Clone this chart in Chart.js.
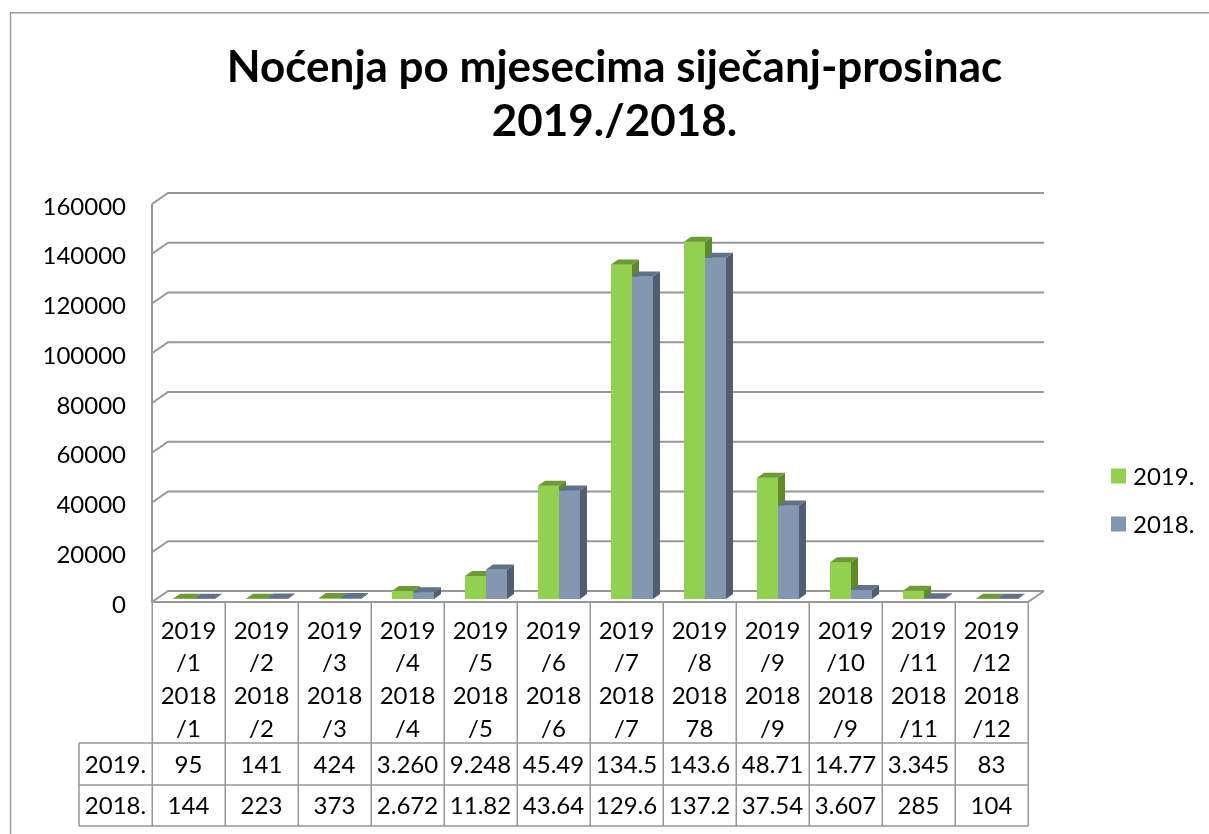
<!DOCTYPE html>
<html lang="hr">
<head>
    <meta charset="utf-8" />
    <title>Noćenja po mjesecima</title>
    <style>
        html, body { margin: 0; padding: 0; background: #fff; }
        #chartWrap { width: 1209px; height: 834px; }
    </style>
    <script src="https://cdn.jsdelivr.net/npm/chart.js"></script>
</head>
<body>
    <div id="chartWrap">
        <canvas id="nightsChart" width="1209" height="834"></canvas>
    </div>
    <script>
        // category labels as they appear in the table header (typos kept from the original)
        var months = [
            ['2019', '/1', '2018', '/1'],
            ['2019', '/2', '2018', '/2'],
            ['2019', '/3', '2018', '/3'],
            ['2019', '/4', '2018', '/4'],
            ['2019', '/5', '2018', '/5'],
            ['2019', '/6', '2018', '/6'],
            ['2019', '/7', '2018', '/7'],
            ['2019', '/8', '2018', '78'],
            ['2019', '/9', '2018', '/9'],
            ['2019', '/10', '2018', '/9'],
            ['2019', '/11', '2018', '/11'],
            ['2019', '/12', '2018', '/12']
        ];
        var seriesNames = ['2019.', '2018.'];
        var nights2019 = [95, 141, 424, 3260, 9248, 45490, 134500, 143600, 48710, 14770, 3345, 83];
        var nights2018 = [144, 223, 373, 2672, 11820, 43640, 129600, 137200, 37540, 3607, 285, 104];
        // values as printed (cut off) in the data table
        var table2019 = ['95', '141', '424', '3.260', '9.248', '45.49', '134.5', '143.6', '48.71', '14.77', '3.345', '83'];
        var table2018 = ['144', '223', '373', '2.672', '11.82', '43.64', '129.6', '137.2', '37.54', '3.607', '285', '104'];
        var yMax = 160000;
        var yStep = 20000;

        var FONT = 'Lato, "Open Sans", sans-serif';
        var LINE = '#979797';
        // bar depth offsets and wall/floor offsets
        var BAR_DX = 7, BAR_DY = 5;
        var FRONT_DX = -5.5, FRONT_DY = 3;
        var BACK_DX = 10.5, BACK_DY = -8;

        var faceColors = [
            { top: '#6c9b35', side: '#5f8a2c' },
            { top: '#61718a', side: '#525e70' }
        ];

        function poly(ctx, pts, fill) {
            ctx.beginPath();
            ctx.moveTo(pts[0][0], pts[0][1]);
            for (var i = 1; i < pts.length; i++) ctx.lineTo(pts[i][0], pts[i][1]);
            ctx.closePath();
            ctx.fillStyle = fill;
            ctx.fill();
        }

        var excel3d = {
            id: 'excel3d',
            beforeDraw: function (chart) {
                var ctx = chart.ctx;
                ctx.save();
                ctx.strokeStyle = '#9a9a9a';
                ctx.lineWidth = 1.5;
                ctx.beginPath();
                ctx.moveTo(10.5, 840);
                ctx.lineTo(10.5, 12.75);
                ctx.lineTo(1215, 12.75);
                ctx.stroke();
                ctx.restore();
            },
            beforeDatasetsDraw: function (chart) {
                var ctx = chart.ctx, ys = chart.scales.y, a = chart.chartArea;
                ctx.save();
                ctx.strokeStyle = LINE;
                ctx.lineWidth = 2;
                ys.ticks.forEach(function (t) {
                    var yv = ys.getPixelForValue(t.value);
                    ctx.beginPath();
                    ctx.moveTo(a.left + FRONT_DX, yv + FRONT_DY);
                    ctx.lineTo(a.left + BACK_DX, yv + BACK_DY);
                    ctx.lineTo(a.right + BACK_DX, yv + BACK_DY);
                    ctx.stroke();
                });
                var y0 = ys.getPixelForValue(0), yTop = ys.getPixelForValue(yMax);
                ctx.beginPath();
                ctx.moveTo(a.left + FRONT_DX, yTop + FRONT_DY);
                ctx.lineTo(a.left + FRONT_DX, y0 + FRONT_DY);
                ctx.lineTo(a.right + FRONT_DX, y0 + FRONT_DY);
                ctx.lineTo(a.right + BACK_DX, y0 + BACK_DY);
                ctx.stroke();
                ctx.restore();
            },
            afterDatasetsDraw: function (chart) {
                var ctx = chart.ctx;
                ctx.save();
                chart.data.datasets.forEach(function (ds, di) {
                    var meta = chart.getDatasetMeta(di);
                    meta.data.forEach(function (bar) {
                        var p = bar.getProps(['x', 'y', 'base', 'width'], true);
                        var l = p.x - p.width / 2, r = p.x + p.width / 2;
                        bar.draw(ctx);
                        poly(ctx, [[r, p.y], [r + BAR_DX, p.y - BAR_DY], [r + BAR_DX, p.base - BAR_DY], [r, p.base]], faceColors[di].side);
                        poly(ctx, [[l, p.y], [l + BAR_DX, p.y - BAR_DY], [r + BAR_DX, p.y - BAR_DY], [r, p.y]], faceColors[di].top);
                    });
                });
                ctx.restore();
            },
            afterDraw: function (chart) {
                var ctx = chart.ctx, xs = chart.scales.x, ys = chart.scales.y, a = chart.chartArea;
                var n = months.length;
                var colW = (a.right - a.left) / n;
                var left = a.left + FRONT_DX, right = a.right + FRONT_DX;
                var top = ys.getPixelForValue(0) + FRONT_DY;
                var hBottom = 743, r1 = 785, r2 = 826;
                var labelLeft = left - colW;

                ctx.save();
                ctx.strokeStyle = LINE;
                ctx.lineWidth = 1.5;
                ctx.beginPath();
                for (var i = 0; i <= n; i++) {
                    var xv = Math.round(left + i * colW) + 0.25;
                    ctx.moveTo(xv, top);
                    ctx.lineTo(xv, r2);
                }
                ctx.moveTo(labelLeft, hBottom); ctx.lineTo(right, hBottom);
                ctx.moveTo(labelLeft, r1); ctx.lineTo(right, r1);
                ctx.moveTo(labelLeft, r2); ctx.lineTo(right, r2);
                ctx.moveTo(labelLeft, hBottom); ctx.lineTo(labelLeft, r2);
                ctx.stroke();

                ctx.fillStyle = '#000';
                ctx.font = '24px ' + FONT;
                ctx.textAlign = 'center';
                ctx.textBaseline = 'middle';
                months.forEach(function (lines, i) {
                    var cx = xs.getPixelForValue(i) + FRONT_DX;
                    lines.forEach(function (s, k) {
                        ctx.fillText(s, cx, 631 + k * 32.7);
                    });
                    ctx.fillText(table2019[i], cx, 765);
                    ctx.fillText(table2018[i], cx, 806);
                });
                ctx.fillText(seriesNames[0], labelLeft + colW / 2, 765);
                ctx.fillText(seriesNames[1], labelLeft + colW / 2, 806);

                // legend
                ctx.textAlign = 'left';
                chart.data.datasets.forEach(function (ds, di) {
                    var ly = 476 + di * 48;
                    ctx.fillStyle = ds.backgroundColor;
                    ctx.fillRect(1111, ly - 7.5, 15, 15);
                    ctx.fillStyle = '#000';
                    ctx.fillText(ds.label, 1133, ly + 1);
                });
                ctx.restore();
            }
        };

        var ctx = document.getElementById('nightsChart').getContext('2d');
        var nightsChart = new Chart(ctx, {
            type: 'bar',
            data: {
                labels: months,
                datasets: [{
                    label: seriesNames[0],
                    data: nights2019,
                    backgroundColor: '#92d050'
                }, {
                    label: seriesNames[1],
                    data: nights2018,
                    backgroundColor: '#8497b0'
                }]
            },
            options: {
                responsive: false,
                animation: false,
                devicePixelRatio: 1,
                categoryPercentage: 0.575,
                barPercentage: 1,
                borderWidth: 0,
                layout: { padding: { left: 20, right: 0, top: 0, bottom: 235 } },
                plugins: {
                    legend: { display: false },
                    tooltip: { enabled: false },
                    title: {
                        display: true,
                        text: ['Noćenja po mjesecima siječanj-prosinac', '2019./2018.'],
                        color: '#000',
                        font: { family: FONT, size: 44, weight: 'bold', lineHeight: 1.227 },
                        padding: { top: 41, bottom: 52 }
                    }
                },
                scales: {
                    x: { display: false },
                    y: {
                        min: 0,
                        max: yMax,
                        ticks: {
                            stepSize: yStep,
                            format: { useGrouping: false },
                            labelOffset: 6,
                            padding: 31.5,
                            color: '#000',
                            font: { family: FONT, size: 24 }
                        },
                        grid: { display: false, drawTicks: false },
                        border: { display: false },
                        afterFit: function (s) { s.width = 137.5; }
                    },
                    yRight: {
                        type: 'linear',
                        axis: 'y',
                        position: 'right',
                        display: true,
                        ticks: { display: false },
                        grid: { display: false, drawTicks: false },
                        border: { display: false },
                        afterFit: function (s) { s.width = 175.5; }
                    }
                }
            },
            plugins: [excel3d]
        });
    </script>
</body>
</html>
